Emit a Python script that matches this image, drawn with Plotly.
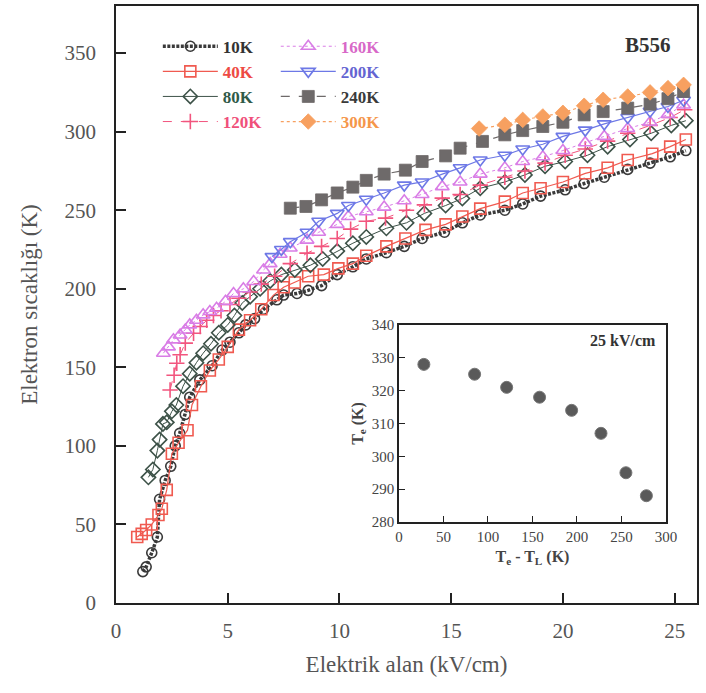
import plotly.graph_objects as go

# ---------------- data ----------------
E10 = [1.2, 1.35, 1.6, 1.85, 1.95, 2.2, 2.45, 2.65, 2.85, 3.1, 3.3, 3.75, 4.3, 4.75, 5.1, 5.5, 5.8, 6.2, 6.6, 7.2, 7.5, 8.1, 8.6, 9.2, 9.9, 10.6, 11.2, 12.1, 12.9, 13.7, 14.7, 15.5, 16.3, 17.4, 18.2, 19.0, 20.1, 20.95, 21.85, 22.9, 23.9, 24.8, 25.5]
T10 = [20, 23, 32, 42, 66, 78, 87, 100, 108, 120, 131, 142, 151, 161, 166, 172, 177, 181, 187, 193, 196, 197, 199, 202, 209, 214, 219, 223, 227, 232, 236, 242, 247, 250, 254, 259, 263, 267, 271, 276, 280, 284, 288]

E40 = [0.95, 1.15, 1.35, 1.6, 1.9, 2.05, 2.27, 2.5, 2.8, 3.2, 3.4, 3.8, 4.2, 4.6, 5.0, 5.5, 6.0, 6.5, 7.05, 7.5, 8.0, 8.6, 9.3, 9.95, 10.6, 11.2, 12.1, 12.95, 13.85, 14.75, 15.5, 16.3, 17.4, 18.2, 19.0, 20.0, 21.0, 22.0, 22.9, 24.0, 24.8, 25.5]
T40 = [42, 44, 46.5, 50, 56, 60, 72, 95, 102, 110, 126, 138, 148, 155, 163, 174, 180, 187, 196, 201, 204, 208, 209, 213, 216, 221, 227, 232, 237.5, 241, 246, 251, 255.5, 261, 264, 268, 273.5, 277, 282, 286, 290.5, 295]

E80 = [1.45, 1.65, 1.85, 1.95, 2.1, 2.27, 2.5, 2.7, 3.0, 3.3, 3.6, 3.9, 4.25, 4.6, 5.0, 5.3, 5.65, 6.0, 6.45, 6.9, 7.4, 8.0, 8.7, 9.25, 9.9, 10.6, 11.2, 12.1, 13.0, 13.8, 14.75, 15.5, 16.3, 17.4, 18.3, 19.2, 20.1, 21.1, 22.0, 23.0, 23.95, 24.85, 25.5]
T80 = [80, 85, 97, 104, 114, 115, 122, 126, 138, 146, 153, 159, 165, 172, 177, 183, 191, 195, 200, 205, 209, 212, 215, 219, 224, 229, 233, 238.5, 242, 248, 253, 257.5, 264, 268, 272.5, 278, 281, 285, 290.5, 295, 299, 304, 307]

E120 = [2.42, 2.6, 2.72, 2.87, 3.1, 3.47, 3.77, 4.06, 4.36, 4.7, 5.1, 5.5, 6.0, 6.5, 7.1, 7.8, 8.55, 9.2, 9.9, 10.5, 11.2, 12.06, 13.0, 13.8, 14.6, 15.4, 16.3, 17.4, 18.3, 19.2, 20.1, 21.0, 22.0, 22.9, 23.9, 24.8, 25.45]
T120 = [135.6, 145, 152.6, 158, 165.4, 171.7, 176, 180, 183, 186, 190, 194, 198, 203, 208, 216, 222.7, 227, 232, 238, 243, 245, 250, 253.4, 257.7, 260, 266, 271, 275, 280, 285, 289, 294, 299, 304, 309, 314]

E160 = [2.12, 2.35, 2.57, 2.87, 3.1, 3.3, 3.6, 3.9, 4.2, 4.5, 4.9, 5.26, 5.7, 6.16, 6.6, 6.9, 7.35, 7.8, 8.55, 9.07, 9.9, 10.4, 11.2, 12.0, 12.9, 13.7, 14.6, 15.4, 16.3, 17.4, 18.2, 19.1, 20.0, 21.0, 21.85, 22.9, 23.9, 24.7, 25.4]
T160 = [159, 163, 167.5, 170.6, 173.8, 177, 180, 183.4, 185.5, 187.6, 192, 197, 200, 204.6, 212, 216, 222, 226, 231, 236, 241, 246, 249, 252, 256, 260, 265, 268, 273, 277, 281, 284, 288, 293, 297, 302, 306, 311, 317]

E200 = [6.98, 7.4, 7.8, 8.55, 9.07, 9.9, 10.4, 11.2, 12.0, 12.9, 13.7, 14.6, 15.4, 16.3, 17.4, 18.2, 19.1, 20.0, 21.0, 21.85, 22.9, 23.9, 24.7, 25.4]
T200 = [220.5, 225, 230, 236, 243, 248, 253, 257, 261, 266, 268, 273, 277, 282, 285, 289, 292, 297, 301, 305, 309, 313, 316, 320]

E240 = [7.8, 8.5, 9.2, 9.9, 10.6, 11.2, 12.0, 12.95, 13.7, 14.75, 15.4, 16.4, 17.4, 18.2, 19.1, 20.0, 20.95, 21.8, 22.9, 23.9, 24.7, 25.4]
T240 = [251.3, 252.4, 256.6, 261, 264.7, 269, 273, 275.5, 281, 284.6, 289.5, 293.8, 298, 300.7, 303.3, 306, 310.7, 312.8, 315, 317.5, 321, 325.6]

E300 = [16.25, 17.4, 18.2, 19.1, 20.0, 20.95, 21.8, 22.9, 23.9, 24.7, 25.4]
T300 = [302, 304.4, 307.5, 309.7, 312, 316.5, 320.3, 322.4, 325, 327.7, 329.8]

# inset: Te at 25 kV/cm vs Te - TL
dT_inset = [28, 85, 121, 158, 194, 227, 255, 278]
Te_inset = [328, 325, 321, 318, 314, 307, 295, 288]

x_ticks = [0, 5, 10, 15, 20, 25]
y_ticks = [0, 50, 100, 150, 200, 250, 300, 350]
inset_x_ticks = [0, 50, 100, 150, 200, 250, 300]
inset_y_ticks = [280, 290, 300, 310, 320, 330, 340]

FONT = "Liberation Serif"

series = [
    # name, E, T, color, text color, dash, width, symbol, msize, legend
    ("10K", E10, T10, "#3a3a3a", "#333333", "3px,1.5px", 3.5, "circle-open", 10, "legend"),
    ("40K", E40, T40, "#f05a50", "#ee4a44", "solid", 1.2, "square-open", 11, "legend"),
    ("80K", E80, T80, "#3d5248", "#2f5a48", "solid", 1.0, "diamond-open", 11, "legend"),
    ("120K", E120, T120, "#f2557e", "#f0507a", "dash", 1.0, "cross-thin-open", 11, "legend"),
    ("160K", E160, T160, "#d97de6", "#d868c8", "dot", 1.0, "triangle-up-open", 12, "legend2"),
    ("200K", E200, T200, "#6d78e6", "#6464d2", "solid", 1.2, "triangle-down-open", 12, "legend2"),
    ("240K", E240, T240, "#6e6a6a", "#3a3a3a", "dash", 1.2, "square", 12, "legend2"),
    ("300K", E300, T300, "#f7a060", "#f5964a", "dot", 1.2, "diamond", 12, "legend2"),
]

fig = go.Figure()
for name, ex, ty, col, tcol, dash, w, sym, ms, lg in series:
    filled = not sym.endswith("open")
    fig.add_trace(go.Scatter(
        x=ex, y=ty, mode="lines+markers",
        name=f"<b><span style='color:{tcol}'>{name}</span></b>",
        line=dict(color=col, width=w, dash=dash),
        marker=dict(symbol=sym, size=ms, color=col,
                    line=dict(color=col, width=1.6 if not filled else 0.8)),
        legend=lg,
    ))

fig.add_trace(go.Scatter(
    x=dT_inset, y=Te_inset, mode="markers", xaxis="x2", yaxis="y2",
    marker=dict(symbol="circle", size=12, color="#5a5a5a",
                line=dict(color="#777777", width=1)),
    showlegend=False,
))

axis_common = dict(
    showline=True, linecolor="#222222", linewidth=1.5, mirror=True,
    ticks="inside", ticklen=10, tickwidth=1.5, tickcolor="#222222",
    showgrid=False, zeroline=False, automargin=False,
)
inset_common = dict(
    showline=True, linecolor="#222222", linewidth=1.5, mirror=True,
    ticks="inside", ticklen=6, tickwidth=1.2, tickcolor="#222222",
    showgrid=False, zeroline=False, automargin=False,
)

fig.update_layout(
    template="none",
    width=706, height=693,
    margin=dict(l=116, r=9, t=6, b=90, autoexpand=False),
    paper_bgcolor="white", plot_bgcolor="white",
    font=dict(family=FONT, color="#333333"),
    xaxis=dict(range=[0, 26], tickvals=x_ticks, domain=[0, 1],
               tickfont=dict(size=21, family=FONT, color="#555555"),
               title=dict(text="Elektrik alan (kV/cm)", font=dict(size=23, family=FONT, color="#555555"), standoff=14),
               ticklabelstandoff=8,
               **axis_common),
    yaxis=dict(range=[0, 380], tickvals=y_ticks, domain=[0, 1],
               tickfont=dict(size=21, family=FONT, color="#555555"),
               title=dict(text="Elektron sıcaklığı (K)", font=dict(size=23, family=FONT, color="#555555"), standoff=20),
               ticklabelstandoff=14,
               **axis_common),
    xaxis2=dict(range=[0, 300], tickvals=inset_x_ticks,
                domain=[0.487, 0.9466], anchor="y2",
                tickfont=dict(size=15, family=FONT, color="#444444"),
                title=dict(text="<b>T<sub>e</sub> - T<sub>L</sub> (K)</b>", font=dict(size=16, family=FONT, color="#444444"), standoff=7),
                **inset_common),
    yaxis2=dict(range=[280, 340], tickvals=inset_y_ticks,
                domain=[0.1357, 0.4657], anchor="x2",
                tickfont=dict(size=15, family=FONT, color="#444444"),
                title=dict(text="<b>T<sub>e</sub> (K)</b>", font=dict(size=16, family=FONT, color="#444444"), standoff=4),
                **inset_common),
    legend=dict(x=0.072, y=0.962, xanchor="left", yanchor="top", bgcolor="rgba(0,0,0,0)",
                font=dict(size=17, family=FONT), tracegroupgap=0, itemwidth=55,
                traceorder="normal"),
    legend2=dict(x=0.275, y=0.962, xanchor="left", yanchor="top", bgcolor="rgba(0,0,0,0)",
                 font=dict(size=17, family=FONT), tracegroupgap=0, itemwidth=55,
                 traceorder="normal"),
    annotations=[
        dict(text="<b>B556</b>", xref="paper", yref="paper", x=0.916, y=0.935,
             xanchor="center", yanchor="middle",
             showarrow=False, font=dict(size=21, family=FONT, color="#333333")),
        dict(text="<b>25 kV/cm</b>", xref="x2 domain", yref="y2 domain", x=0.97, y=0.92,
             xanchor="right", yanchor="middle", showarrow=False,
             font=dict(size=16, family=FONT, color="#333333")),
    ],
    shapes=[dict(type="rect", xref="x2 domain", yref="y2 domain", x0=0, x1=1, y0=0, y1=1,
                 fillcolor="white", line=dict(width=0), layer="below")],
)

fig.write_html("out.html", config={"displayModeBar": False},
               post_script="document.body.style.margin='0px';")
